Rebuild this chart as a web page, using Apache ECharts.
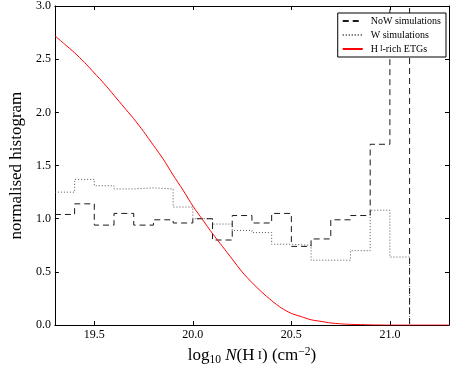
<!DOCTYPE html>
<html>
<head>
<meta charset="utf-8">
<script src="https://cdn.jsdelivr.net/npm/echarts@6/dist/echarts.min.js"></script>
<style>
html,body{margin:0;padding:0;background:#fff;}
#chart{width:463px;height:371px;}
</style>
</head>
<body>
<div id="chart"></div>
<script>
// Histogram bin edges (log10 N(HI))
const binEdges = [19.3,19.4,19.5,19.6,19.7,19.8,19.9,20.0,20.1,20.2,20.3,20.4,20.5,20.6,20.7,20.8,20.9,21.0,21.1];
// NoW simulations (dashed) – one value per bin
const nowValues = [1.04,1.14,0.94,1.05,0.94,0.99,0.96,1.00,0.80,1.03,0.96,1.05,0.74,0.81,0.99,1.03,1.70,4.50];
// W simulations (dotted) – one value per bin
const wValues = [1.25,1.37,1.31,1.28,1.29,1.28,1.11,1.00,0.95,0.89,0.87,0.76,0.75,0.61,0.61,0.70,1.08,0.64];
// HI-rich ETGs curve (red)
const etgX = [19.30,19.35,19.40,19.45,19.50,19.55,19.60,19.65,19.70,19.75,19.80,19.85,19.90,19.95,20.00,20.05,20.10,20.15,20.20,20.25,20.30,20.35,20.40,20.45,20.50,20.55,20.60,20.65,20.70,20.75,20.80,20.90,21.00,21.30];
const etgY = [2.72,2.64,2.56,2.47,2.37,2.27,2.16,2.05,1.94,1.82,1.69,1.56,1.41,1.27,1.12,0.99,0.86,0.74,0.62,0.50,0.40,0.31,0.23,0.16,0.11,0.08,0.05,0.035,0.02,0.012,0.007,0.002,0.0,0.0];
// Tick labels
const xTicks = [19.5,20.0,20.5,21.0];
const yTicks = [0.0,0.5,1.0,1.5,2.0,2.5,3.0];

const seriesNames = ['NoW simulations','W simulations','H I-rich ETGs'];

function stepData(edges, vals){
  const d = [];
  for (let i = 0; i < vals.length; i++) d.push([edges[i], vals[i]]);
  d.push([edges[vals.length], vals[vals.length-1]]);
  d.push([edges[vals.length], 0]);
  return d;
}

const FONT = '"Liberation Serif", "DejaVu Serif", serif';
const chart = echarts.init(document.getElementById('chart'), null, {renderer:'canvas'});

const tickCommon = {show:true, inside:true, length:4, lineStyle:{color:'#000', width:1}};
const lineCommon = {show:true, onZero:false, lineStyle:{color:'#000', width:1}};

chart.setOption({
  animation:false,
  backgroundColor:'#fff',
  textStyle:{fontFamily:FONT},
  grid:{left:46, right:14, top:6, bottom:37, containLabel:false},
  legend:{
    orient:'vertical', right:17, top:13,
    data:seriesNames,
    backgroundColor:'#fff', borderColor:'#000', borderWidth:1, borderRadius:0,
    padding:[3,5,3,4], itemWidth:20, itemHeight:10, itemGap:4,
    itemStyle:{color:'rgba(0,0,0,0)', borderColor:'rgba(0,0,0,0)', borderWidth:0, opacity:0},
    textStyle:{fontFamily:FONT, fontSize:10, color:'#000', padding:[0,0,0,3],
      rich:{n:{fontFamily:FONT, fontSize:10, color:'#000'}, sc:{fontFamily:FONT, fontSize:7.5, color:'#000'}}},
    formatter: function(name){
      if (name === 'H I-rich ETGs') return '{n|H\u2009}{sc|I}{n|-rich ETGs}';
      return name;
    }
  },
  xAxis:[{
    type:'value', min:19.3, max:21.3, position:'bottom',
    axisLine:lineCommon,
    axisTick:Object.assign({customValues:xTicks}, tickCommon),
    axisLabel:{customValues:xTicks, formatter:v=>Number(v).toFixed(1), fontFamily:FONT, fontSize:12, color:'#000', margin:4},
    splitLine:{show:false},
    name:'{t|log}{sub|10}{t| }{it|N}{t|(H\u2009}{sc|I}{t|) (cm}{sup|\u22122}{t|)}',
    nameLocation:'middle', nameGap:12,
    nameTextStyle:{fontFamily:FONT, color:'#000', fontSize:17,
      rich:{
        t:{fontFamily:FONT, fontSize:17, color:'#000', lineHeight:20},
        it:{fontFamily:FONT, fontSize:17, color:'#000', fontStyle:'italic', lineHeight:20},
        sc:{fontFamily:FONT, fontSize:12.5, color:'#000', lineHeight:20},
        sub:{fontFamily:FONT, fontSize:11.5, color:'#000', lineHeight:12, verticalAlign:'bottom'},
        sup:{fontFamily:FONT, fontSize:11.5, color:'#000', lineHeight:12, verticalAlign:'top'}
      }}
  },{
    type:'value', min:19.3, max:21.3, position:'top',
    axisLine:lineCommon,
    axisTick:Object.assign({customValues:xTicks}, tickCommon),
    axisLabel:{show:false, customValues:xTicks},
    splitLine:{show:false}
  }],
  yAxis:[{
    type:'value', min:0, max:3, interval:0.5, position:'left',
    axisLine:lineCommon,
    axisTick:tickCommon,
    axisLabel:{formatter:v=>Number(v).toFixed(1), fontFamily:FONT, fontSize:12, color:'#000', margin:4},
    splitLine:{show:false},
    name:'normalised histogram', nameLocation:'middle', nameGap:25,
    nameTextStyle:{fontFamily:FONT, fontSize:17, color:'#000'}
  },{
    type:'value', min:0, max:3, interval:0.5, position:'right',
    axisLine:lineCommon,
    axisTick:tickCommon,
    axisLabel:{show:false},
    splitLine:{show:false}
  }],
  series:[{
    name:seriesNames[0], type:'line', step:'end', symbol:'none', clip:true,
    data:stepData(binEdges, nowValues),
    lineStyle:{color:'#1a1a1a', width:1, type:[6,4]},
    itemStyle:{color:'#1a1a1a'}, z:3
  },{
    name:seriesNames[1], type:'line', step:'end', symbol:'none', clip:true,
    data:stepData(binEdges, wValues),
    lineStyle:{color:'#555', width:1, type:[1,2]},
    itemStyle:{color:'#555'}, z:2
  },{
    name:seriesNames[2], type:'line', symbol:'none', clip:true,
    smooth:0.25,
    data:etgX.map((x,i)=>[x, etgY[i]]),
    lineStyle:{color:'#ff0000', width:1},
    itemStyle:{color:'#ff0000'}, z:4
  }]
});
</script>
</body>
</html>
